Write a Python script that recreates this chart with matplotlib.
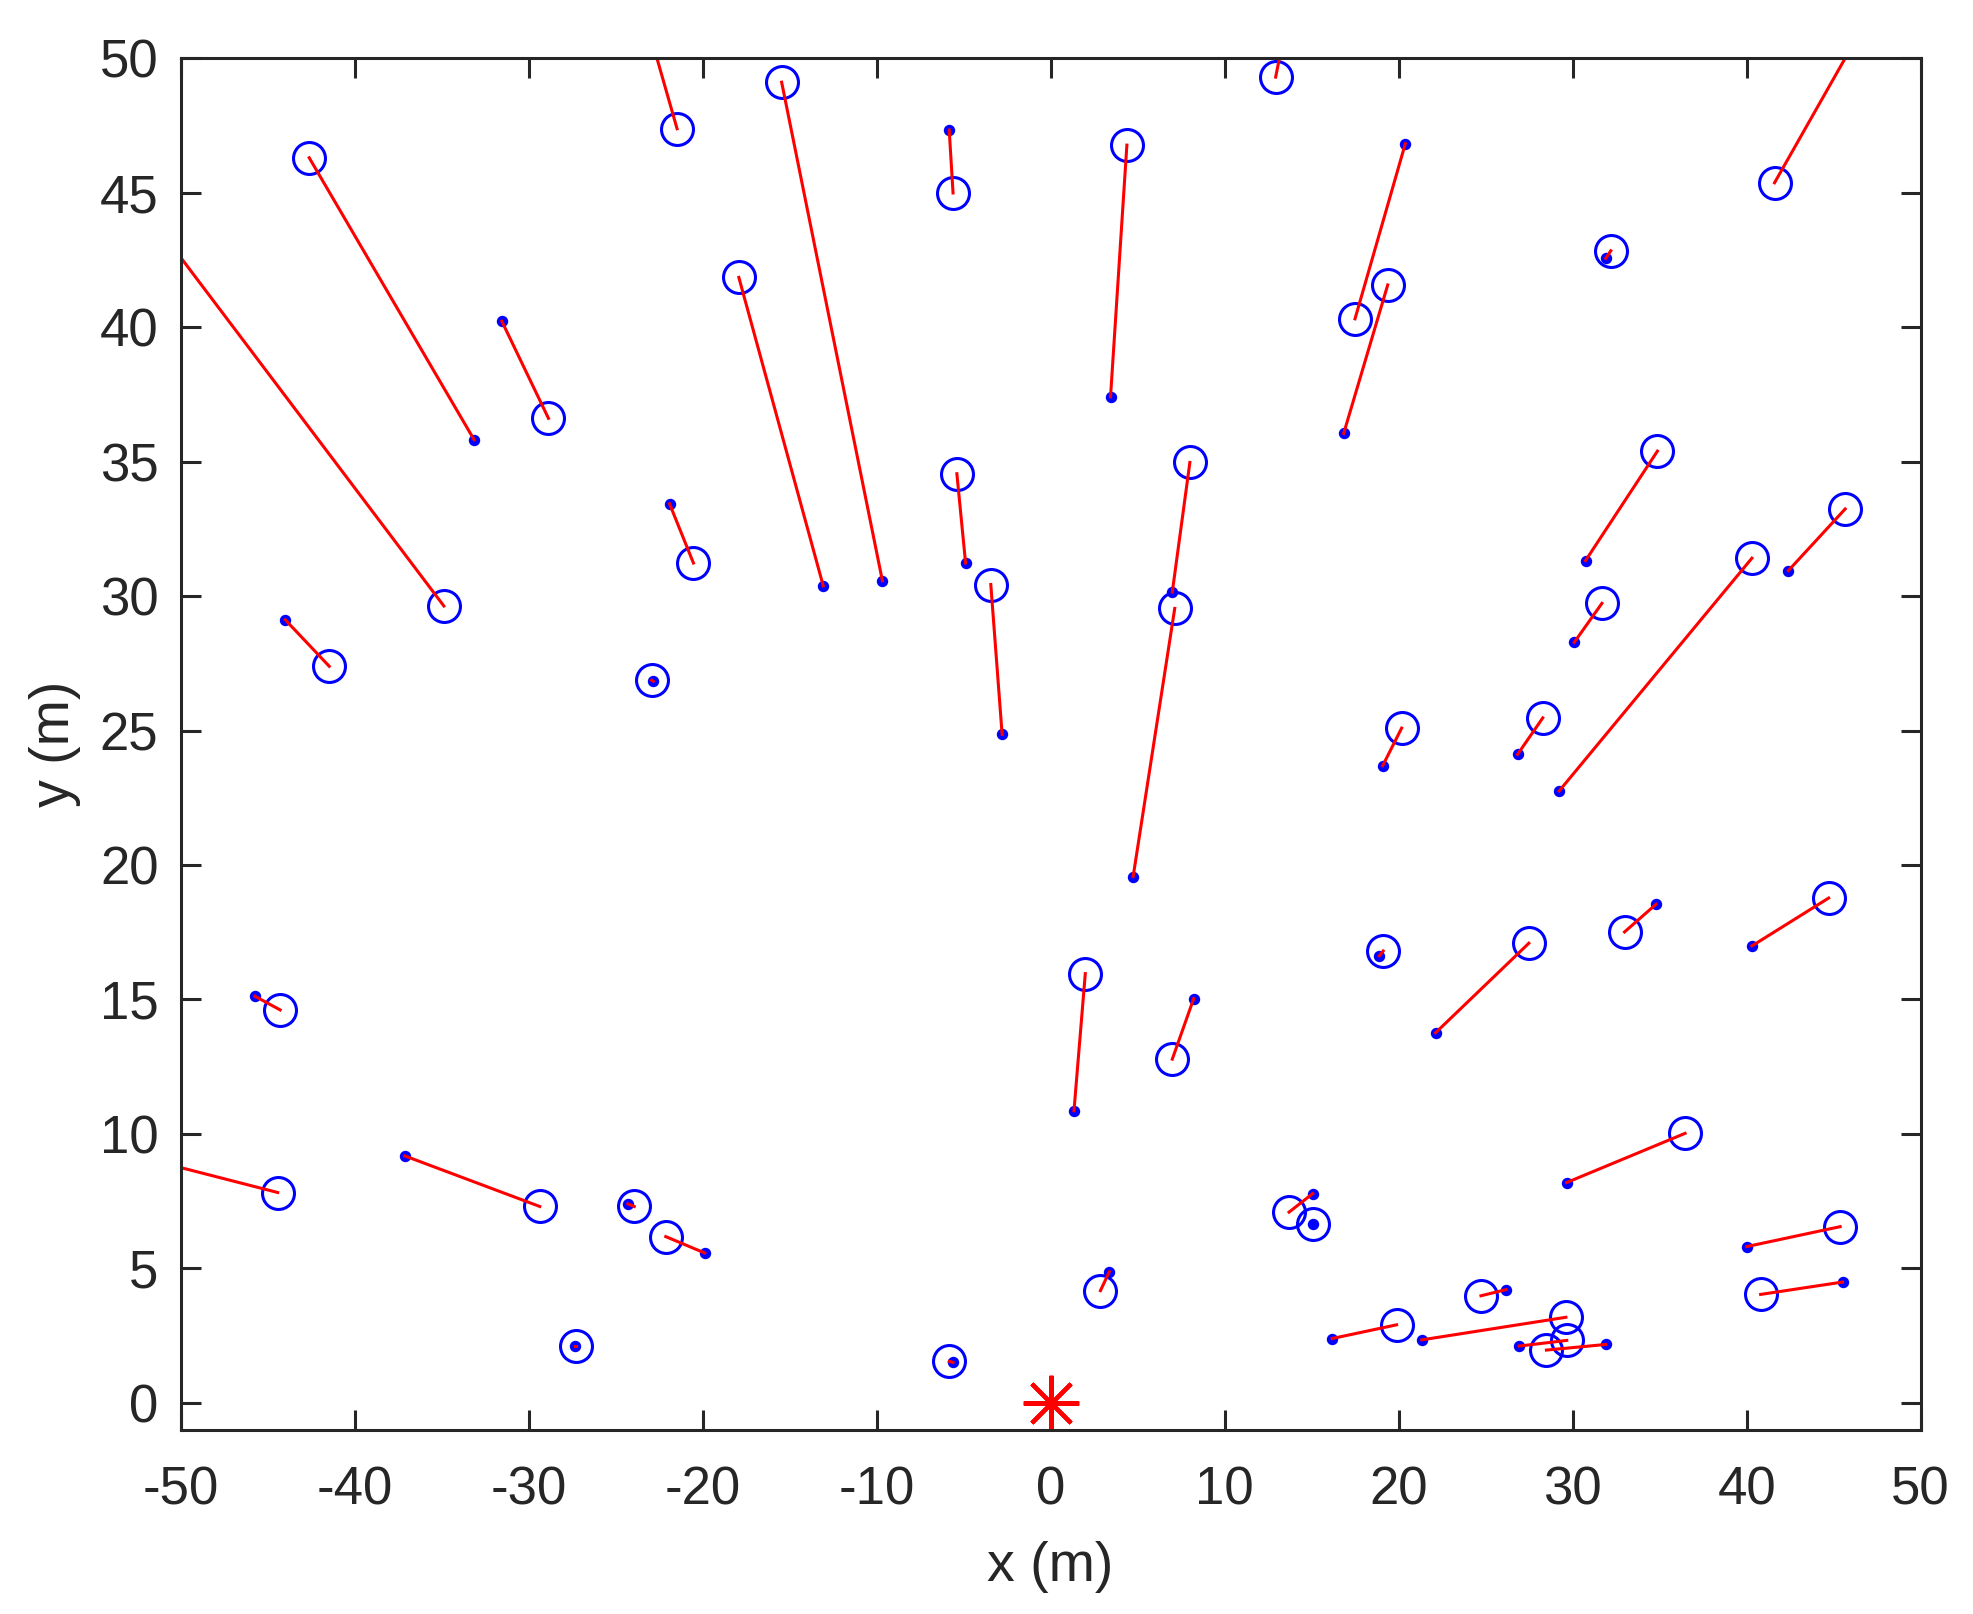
import numpy as np
import matplotlib.pyplot as plt

# estimated positions (circles)
est_x = [-21.47, -15.46, -42.61, -34.87, -28.86, -17.92, -5.61, 4.38, 12.93, 17.49,
         19.37, 41.60, 32.19, 34.87, 45.66, 40.30, 31.68, 28.28, 20.17, 8.00,
         7.13, -5.39, -3.44, -20.53, -41.46, -22.93, 1.99, 6.99, 19.11, 27.48,
         32.98, 44.71, -44.28, -44.42, -29.36, -23.93, -22.12, -27.26, -5.83, 2.86,
         13.70, 15.09, 36.46, 45.37, 40.80, 24.73, 19.88, 29.61, 29.66, 28.49]
est_y = [47.38, 49.11, 46.30, 29.63, 36.61, 41.85, 44.99, 46.77, 49.30, 40.31,
         41.57, 45.37, 42.84, 35.39, 33.24, 31.41, 29.73, 25.47, 25.09, 34.97,
         29.54, 34.55, 30.43, 31.23, 27.39, 26.87, 15.96, 12.78, 16.80, 17.09,
         17.51, 18.77, 14.61, 7.82, 7.30, 7.30, 6.18, 2.11, 1.54, 4.17,
         7.09, 6.66, 10.02, 6.55, 4.03, 3.98, 2.90, 3.18, 2.32, 1.96]

# true positions (dots)
true_x = [-23.20, -9.67, -33.13, -52.00, -31.54, -13.07, -5.83, 3.44, 13.30, 20.38,
          16.84, 46.50, 31.90, 30.74, 42.40, 29.22, 30.09, 26.83, 19.08, 6.99,
          4.74, -4.89, -2.79, -21.90, -43.99, -22.84, 1.34, 8.22, 18.89, 22.12,
          34.79, 40.30, -45.73, -52.00, -37.11, -24.29, -19.88, -27.33, -5.61, 3.37,
          15.06, 15.09, 29.65, 40.01, 45.51, 26.18, 16.18, 21.33, 26.93, 31.91]
true_y = [51.30, 30.57, 35.81, 44.31, 40.22, 30.38, 47.33, 37.41, 50.50, 46.82,
          36.05, 50.96, 42.56, 31.32, 30.95, 22.75, 28.28, 24.11, 23.69, 30.15,
          19.57, 31.23, 24.86, 33.43, 29.12, 26.83, 10.86, 15.03, 16.62, 13.76,
          18.54, 16.99, 15.12, 9.08, 9.18, 7.40, 5.57, 2.11, 1.50, 4.87,
          7.78, 6.66, 8.19, 5.81, 4.49, 4.21, 2.39, 2.34, 2.11, 2.17]

source_x = [0.0]
source_y = [0.0]

plt.rcParams['font.family'] = ['Liberation Sans', 'DejaVu Sans']
plt.rcParams['axes.unicode_minus'] = False
dark = '#262626'

fig = plt.figure(figsize=(9.87, 8.07), dpi=200)
ax = fig.add_axes([0.0915, 0.1142, 0.8815, 0.8497])

ax.plot(est_x, est_y, 'o', color=(0, 0, 1), markerfacecolor='none',
        markersize=11.5, markeredgewidth=1.1, linestyle='none')
ax.plot(true_x, true_y, 'o', color=(0, 0, 1), markersize=3.6,
        markeredgewidth=0.5, linestyle='none')
for ex, ey, tx, ty in zip(est_x, est_y, true_x, true_y):
    ax.plot([ex, tx], [ey, ty], '-', color=(1, 0, 0), linewidth=1.1)
ax.plot(source_x, source_y, marker=(8, 2, 0), color=(1, 0, 0),
        markersize=20, markeredgewidth=1.5, linestyle='none', clip_on=False)

ax.set_xlim(-50, 50)
ax.set_ylim(-1, 50)
ax.set_xticks(np.arange(-50, 51, 10))
ax.set_yticks(np.arange(0, 51, 5))

for s in ax.spines.values():
    s.set_color(dark)
    s.set_linewidth(1.1)
ax.tick_params(direction='in', length=7.2, width=1.1, colors=dark,
               labelsize=19, top=True, right=True)
ax.tick_params(axis='x', pad=13)
ax.tick_params(axis='y', pad=8)

ax.set_xlabel('x (m)', fontsize=20, color=dark)
ax.set_ylabel('y (m)', fontsize=20, color=dark)
ax.xaxis.set_label_coords(0.5, -0.081)
ax.yaxis.set_label_coords(-0.057, 0.5)

fig.savefig('out.png', dpi=200)
